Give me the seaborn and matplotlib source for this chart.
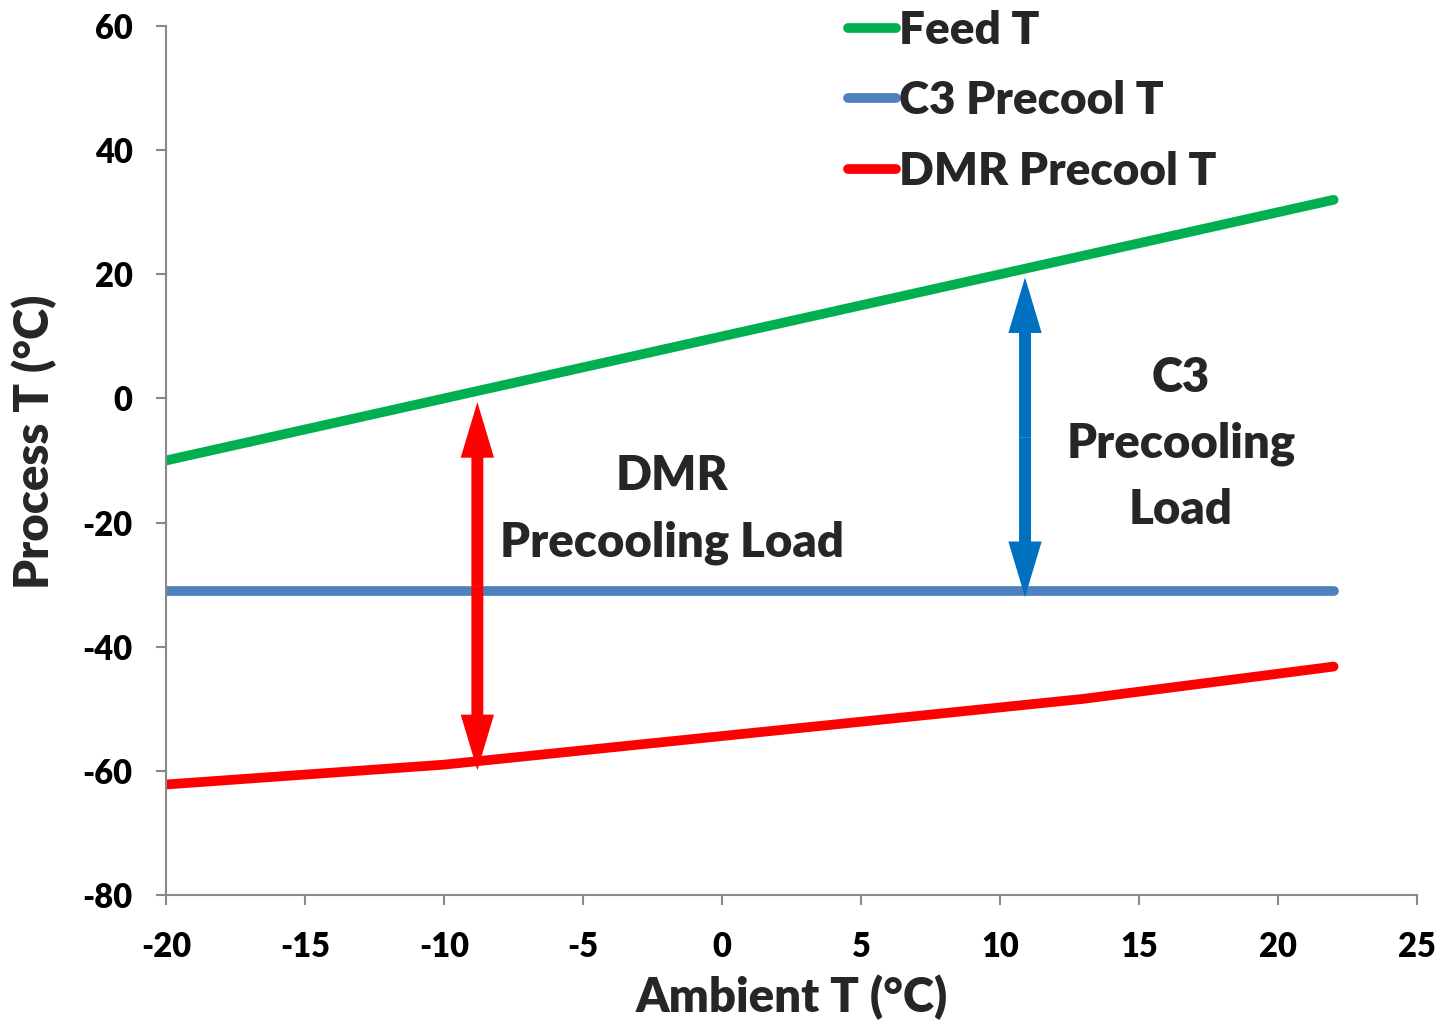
import numpy as np
import pandas as pd
import matplotlib
matplotlib.use("Agg")
import matplotlib.pyplot as plt
from matplotlib.patches import FancyArrowPatch
import seaborn as sns

# ---- data ----
feed_x = [-20, -10, 0, 10, 22]
feed_y = [-10, 0, 10, 20, 32]
c3_x = [-20, 22]
c3_y = [-31, -31]
dmr_x = [-20, -10, 13, 22]
dmr_y = [-62.2, -59.0, -48.4, -43.2]
series_names = ["Feed T", "C3 Precool T", "DMR Precool T"]
series_colors = ["#00B050", "#4F81BD", "#FF0000"]
x_ticks = [-20, -15, -10, -5, 0, 5, 10, 15, 20, 25]
y_ticks = [-80, -60, -40, -20, 0, 20, 40, 60]
dmr_arrow = (-8.8, -0.6, -59.9)
c3_arrow = (10.9, 19.5, -32.0)

sns.set_theme(style="white")
plt.rcParams['font.family'] = ['Lato', 'DejaVu Sans']
W = "heavy"

fig = plt.figure(figsize=(14.49, 10.32), dpi=100)
ax = fig.add_axes([166/1449, 137/1032, (1417-166)/1449, (895-26)/1032])

frames = []
for name, xs, ys in zip(series_names, [feed_x, c3_x, dmr_x], [feed_y, c3_y, dmr_y]):
    frames.append(pd.DataFrame({"x": xs, "y": ys, "series": name}))
df = pd.concat(frames, ignore_index=True)

sns.lineplot(data=df, x="x", y="y", hue="series", hue_order=series_names,
             palette=series_colors, linewidth=7, ax=ax, sort=False,
             solid_capstyle="round")

ax.set_xlim(-20, 25)
ax.set_ylim(-80, 60)
ax.set_xticks(x_ticks)
ax.set_yticks(y_ticks)
ax.set_xticklabels([str(v) for v in x_ticks])
ax.set_yticklabels([str(v) for v in y_ticks])
for s in ["top", "right"]:
    ax.spines[s].set_visible(False)
for s in ["left", "bottom"]:
    ax.spines[s].set_color("#898989")
    ax.spines[s].set_linewidth(1.5)
ax.tick_params(axis="both", which="major", direction="out", length=7, width=1.5,
               color="#898989", labelsize=23.5, labelcolor="black")
ax.tick_params(axis="y", pad=17, left=True)
ax.tick_params(axis="x", pad=19, bottom=True)
for lbl in ax.get_xticklabels() + ax.get_yticklabels():
    lbl.set_fontweight(W)

ax.set_xlabel("Ambient T (°C)", fontsize=34, fontweight=W, labelpad=8)
ax.set_ylabel("Process T (°C)", fontsize=34, fontweight=W)
ax.yaxis.set_label_coords(-0.087, 0.521)

# arrows (double headed built from two simple arrows)
def double_arrow(x, y1, y2, color):
    mid = (y1 + y2) / 2
    style = "simple,head_length=40,head_width=24,tail_width=8.6"
    for end in (y1, y2):
        a = FancyArrowPatch((x, mid), (x, end), arrowstyle=style,
                            mutation_scale=1, color=color, lw=0,
                            shrinkA=0, shrinkB=0, zorder=5)
        ax.add_patch(a)

double_arrow(dmr_arrow[0], dmr_arrow[1], dmr_arrow[2], "#FF0000")
double_arrow(c3_arrow[0], c3_arrow[1], c3_arrow[2], "#0070C0")

ax.text(-1.8, -17.9, "DMR\nPrecooling Load", ha="center", va="center",
        fontsize=34, fontweight=W, linespacing=1.6)
ax.text(16.5, -7.3, "C3\nPrecooling\nLoad", ha="center", va="center",
        fontsize=34, fontweight=W, linespacing=1.6)

leg = ax.legend(loc="upper left", bbox_to_anchor=(820/1449, 1.017),
                bbox_transform=fig.transFigure, frameon=False,
                fontsize=33, handlelength=1.05, handletextpad=0.08,
                labelspacing=0.64, borderpad=0.1)
for t in leg.get_texts():
    t.set_fontweight(W)
for h in leg.get_lines():
    h.set_linewidth(7)
    h.set_solid_capstyle("round")

fig.savefig("out.png", dpi=100)
